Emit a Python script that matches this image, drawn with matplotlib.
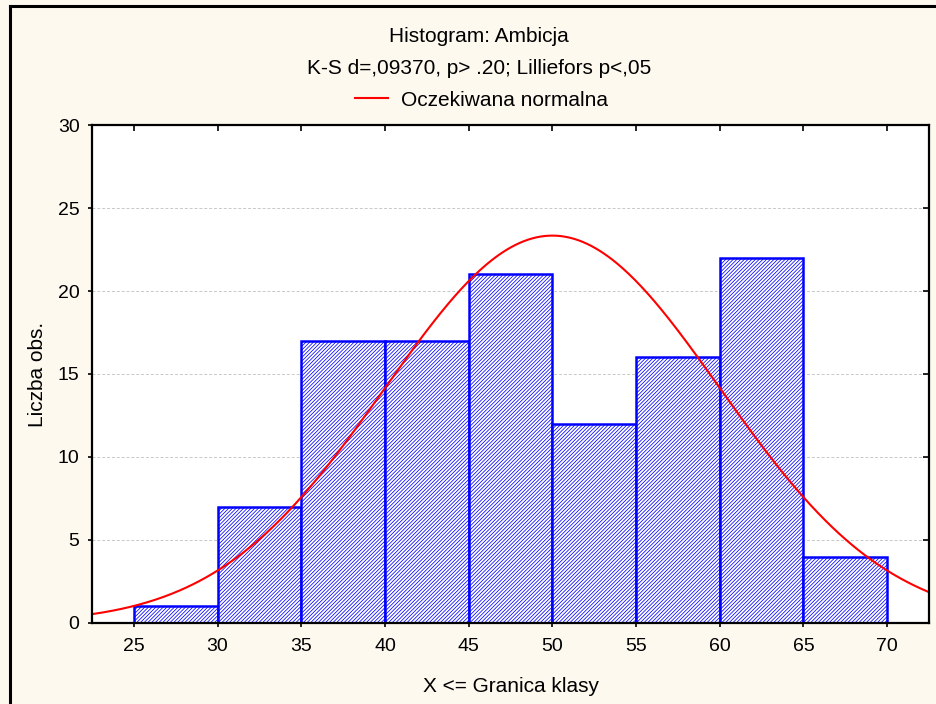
import numpy as np
import matplotlib
matplotlib.use("Agg")
import matplotlib.pyplot as plt
from matplotlib.lines import Line2D

plt.rcParams['font.family'] = ['Liberation Sans', 'DejaVu Sans']
plt.rcParams['hatch.linewidth'] = 0.55
plt.rcParams['hatch.color'] = '#2020ff'

# class limits and counts
bin_edges = [25, 30, 35, 40, 45, 50, 55, 60, 65, 70]
counts = [1, 7, 17, 17, 21, 12, 16, 22, 4]
# parameters of the expected normal curve
mean_val = 50.0
sd_val = 10.0

title_txt = "Histogram: Ambicja"
subtitle_txt = "K-S d=,09370, p> .20; Lilliefors p<,05"
legend_txt = "Oczekiwana normalna"
xlabel_txt = "X <= Granica klasy"
ylabel_txt = "Liczba obs."
xticks = [25, 30, 35, 40, 45, 50, 55, 60, 65, 70]
yticks = [0, 5, 10, 15, 20, 25, 30]

fs = 15
fs_tick = 14
bg = '#fdf9ef'
fig = plt.figure(figsize=(9.37, 7.04), dpi=100, facecolor=bg)
ax = fig.add_axes([0.0982, 0.1151, 0.8933, 0.7073])
ax.set_facecolor('white')

edges = np.array(bin_edges, dtype=float)
widths = np.diff(edges)
ax.bar(edges[:-1], counts, width=widths, align='edge', color='white',
       edgecolor='#0000ff', linewidth=1.8, hatch='/////////', zorder=2)

# expected normal frequency per class
n_total = sum(counts)
bw = widths[0]
xs = np.linspace(22.5, 72.5, 400)
ys = n_total * bw / (sd_val * np.sqrt(2 * np.pi)) * np.exp(-0.5 * ((xs - mean_val) / sd_val) ** 2)
ax.plot(xs, ys, color='#ff0000', lw=1.5, zorder=3)

ax.set_xlim(22.5, 72.5)
ax.set_ylim(0, 30)
ax.set_xticks(xticks)
ax.set_yticks(yticks)
ax.yaxis.grid(True, linestyle=(0, (3, 2)), color='#c8c8c8', lw=0.7, zorder=0)
ax.set_axisbelow(True)
for sp in ax.spines.values():
    sp.set_linewidth(1.6)
    sp.set_zorder(4)
ax.tick_params(axis='both', labelsize=fs_tick, colors='black', width=1.2)
ax.tick_params(axis='x', direction='out', length=3, pad=8, top=True)
ax.tick_params(axis='y', direction='out', length=3, pad=6, right=True)
# inward marks on the top and right edges
for t in ax.xaxis.get_major_ticks():
    t.tick2line.set_marker(3)
    t.tick2line.set_markersize(4)
for t in ax.yaxis.get_major_ticks():
    t.tick2line.set_marker(0)
    t.tick2line.set_markersize(4)

ax.set_xlabel(xlabel_txt, fontsize=fs, labelpad=16)
ax.set_ylabel(ylabel_txt, fontsize=fs, labelpad=8)

fig.text(0.5115, 1 - 37 / 704, title_txt, ha='center', va='center', fontsize=fs)
fig.text(0.5115, 1 - 68 / 704, subtitle_txt, ha='center', va='center', fontsize=fs)
leg_line = Line2D([], [], color='#ff0000', lw=1.5)
fig.legend([leg_line], [legend_txt], loc='center', bbox_to_anchor=(481.5 / 937, 1 - 100 / 704),
           frameon=False, fontsize=fs, handlelength=1.6, handletextpad=0.6)

# outer frame
fig.add_artist(Line2D([10 / 937, 1.0], [1 - 6 / 704, 1 - 6 / 704], color='black', lw=2.2,
                      transform=fig.transFigure))
fig.add_artist(Line2D([10 / 937, 10 / 937], [0, 1 - 6 / 704], color='black', lw=2.2,
                      transform=fig.transFigure))

fig.savefig('out.png', dpi=100, facecolor=bg)
